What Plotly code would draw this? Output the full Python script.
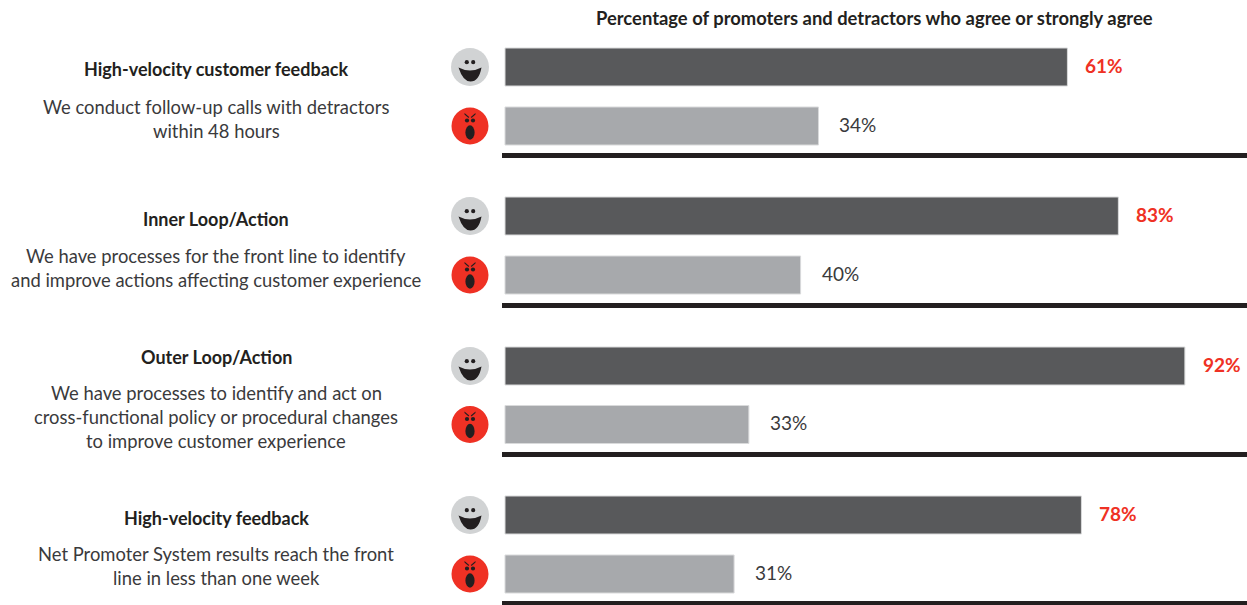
import plotly.graph_objects as go
from plotly.subplots import make_subplots

W, H = 1247, 605
FONT = "Lato"

# Chart data
chart_title = "Percentage of promoters and detractors who agree or strongly agree"
segments = ["Promoters", "Detractors"]
group_titles = [
    "High-velocity customer feedback",
    "Inner Loop/Action",
    "Outer Loop/Action",
    "High-velocity feedback",
]
group_lines = [
    ["We conduct follow-up calls with detractors", "within 48 hours"],
    ["We have processes for the front line to identify",
     "and improve actions affecting customer experience"],
    ["We have processes to identify and act on",
     "cross-functional policy or procedural changes",
     "to improve customer experience"],
    ["Net Promoter System results reach the front", "line in less than one week"],
]
promoter_values = [61, 83, 92, 78]
detractor_values = [34, 40, 33, 31]

# Page layout, in pixels from the top left
AXIS_LEFT = 502
ZERO_PX = 505
# Each group has its own horizontal scale; the first one is stretched
px_per_point = [9.22, 7.39, 7.39, 7.39]
BAR_PX = 38
row_centers = [(67, 126), (216, 275), (366, 424.5), (515, 574)]
rule_tops = [153, 303, 452, 601]
title_y = [69, 219, 357, 518]
lines_y = [[107, 131], [256, 280], [393, 417, 441], [554, 578]]
TEXT_CENTER = 216
ICON_X = 470

DARK_BAR, LIGHT_BAR = "#58595b", "#a7a9ac"
RED, INK, FACE_GREY = "#ef3124", "#231f20", "#d1d3d4"


def px(x):
    return x / W


def py(y):
    return 1 - y / H


fig = make_subplots(rows=4, cols=1, shared_xaxes=False)

annotations = []
for i in range(4):
    row = i + 1
    values = [promoter_values[i], detractor_values[i]]
    top_c, bottom_c = row_centers[i]
    spacing = bottom_c - top_c
    fig.add_trace(
        go.Bar(
            x=values,
            y=segments,
            orientation="h",
            marker=dict(color=[DARK_BAR, LIGHT_BAR],
                        line=dict(color="#d9dadb", width=1)),
            width=BAR_PX / spacing,
            showlegend=False,
            hoverinfo="x+y",
        ),
        row=row,
        col=1,
    )
    dom_top = top_c - spacing / 2
    dom_bottom = rule_tops[i]
    scale = px_per_point[i]
    fig.update_xaxes(
        row=row, col=1,
        range=[(AXIS_LEFT - ZERO_PX) / scale, (W - ZERO_PX) / scale],
        domain=[px(AXIS_LEFT), 1],
        showgrid=False, zeroline=False, showticklabels=False, ticks="",
        showline=True, linecolor=INK, linewidth=5,
    )
    fig.update_yaxes(
        row=row, col=1,
        type="category",
        categoryorder="array",
        categoryarray=segments,
        range=[(dom_bottom - top_c) / spacing, -0.5],
        domain=[py(dom_bottom), py(dom_top)],
        showgrid=False, zeroline=False, showticklabels=False, ticks="",
    )

    # Value labels sit just past the end of each bar
    axis_suffix = "" if row == 1 else str(row)
    annotations.append(dict(
        x=values[0], y=segments[0], xref=f"x{axis_suffix}", yref=f"y{axis_suffix}",
        text=f"<b>{values[0]}%</b>", showarrow=False, xanchor="left", xshift=16, yshift=1.5,
        font=dict(family=FONT, size=19, color=RED),
    ))
    annotations.append(dict(
        x=values[1], y=segments[1], xref=f"x{axis_suffix}", yref=f"y{axis_suffix}",
        text=f"{values[1]}%", showarrow=False, xanchor="left", xshift=19, yshift=2,
        font=dict(family=FONT, size=19, color="#3a3a3c"),
    ))

    # Left-hand descriptions
    annotations.append(dict(
        x=px(TEXT_CENTER), y=py(title_y[i]), xref="paper", yref="paper",
        text=f"<b>{group_titles[i]}</b>", showarrow=False, xanchor="center", yanchor="middle",
        font=dict(family=FONT, size=18, color=INK),
    ))
    for line, y in zip(group_lines[i], lines_y[i]):
        annotations.append(dict(
            x=px(TEXT_CENTER), y=py(y), xref="paper", yref="paper",
            text=line, showarrow=False, xanchor="center", yanchor="middle",
            font=dict(family=FONT, size=18.4, color="#3a3a3c"),
        ))

annotations.append(dict(
    x=px(874), y=py(18), xref="paper", yref="paper",
    text=f"<b>{chart_title}</b>", showarrow=False, xanchor="center", yanchor="middle",
    font=dict(family=FONT, size=18.4, color=INK),
))


def path(points_cmd):
    """Build an SVG path from (command, x, y...) tuples given in page pixels."""
    parts = []
    for cmd, *coords in points_cmd:
        pairs = [f"{px(coords[k]):.5f},{py(coords[k + 1]):.5f}" for k in range(0, len(coords), 2)]
        parts.append(cmd + " " + " ".join(pairs))
    return " ".join(parts) + " Z"


def oval(cx, cy, rx, ry, color):
    return dict(type="circle", xref="paper", yref="paper",
                x0=px(cx - rx), x1=px(cx + rx), y0=py(cy + ry), y1=py(cy - ry),
                fillcolor=color, line_width=0, layer="above")


def happy_face(cx, cy):
    mouth = path([
        ("M", cx - 11.5, cy + 0.5),
        ("Q", cx, cy + 6.5, cx + 11.5, cy + 0.5),
        ("Q", cx + 9, cy + 14.5, cx + 0.5, cy + 14.5),
        ("Q", cx - 7, cy + 14.5, cx - 11.5, cy + 0.5),
    ])
    return [
        oval(cx, cy, 19, 19, FACE_GREY),
        oval(cx - 3.2, cy - 4.8, 2.1, 2.1, INK),
        oval(cx + 3.2, cy - 4.8, 2.1, 2.1, INK),
        dict(type="path", xref="paper", yref="paper", path=mouth,
             fillcolor=INK, line_width=0, layer="above"),
    ]


def angry_face(cx, cy):
    brow_left = path([("M", cx - 5.5, cy - 13), ("L", cx - 0.8, cy - 9),
                      ("L", cx - 1.5, cy - 8), ("L", cx - 5.5, cy - 11.5)])
    brow_right = path([("M", cx + 5.5, cy - 13), ("L", cx + 0.8, cy - 9),
                       ("L", cx + 1.5, cy - 8), ("L", cx + 5.5, cy - 11.5)])
    shapes = [
        oval(cx, cy, 18.5, 18.5, RED),
        oval(cx - 3, cy - 5.5, 2.1, 2.1, INK),
        oval(cx + 3, cy - 5.5, 2.1, 2.1, INK),
        oval(cx, cy + 6.5, 4.6, 7.2, INK),
    ]
    for brow in (brow_left, brow_right):
        shapes.append(dict(type="path", xref="paper", yref="paper", path=brow,
                           fillcolor=INK, line_width=0, layer="above"))
    return shapes


shapes = []
for top_c, bottom_c in row_centers:
    shapes += happy_face(ICON_X, top_c)
    shapes += angry_face(ICON_X, bottom_c)

fig.update_layout(
    width=W,
    height=H,
    margin=dict(l=0, r=0, t=0, b=0),
    paper_bgcolor="white",
    plot_bgcolor="white",
    annotations=annotations,
    shapes=shapes,
    font=dict(family=FONT),
)

fig.write_html("out.html", config={"displayModeBar": False})
